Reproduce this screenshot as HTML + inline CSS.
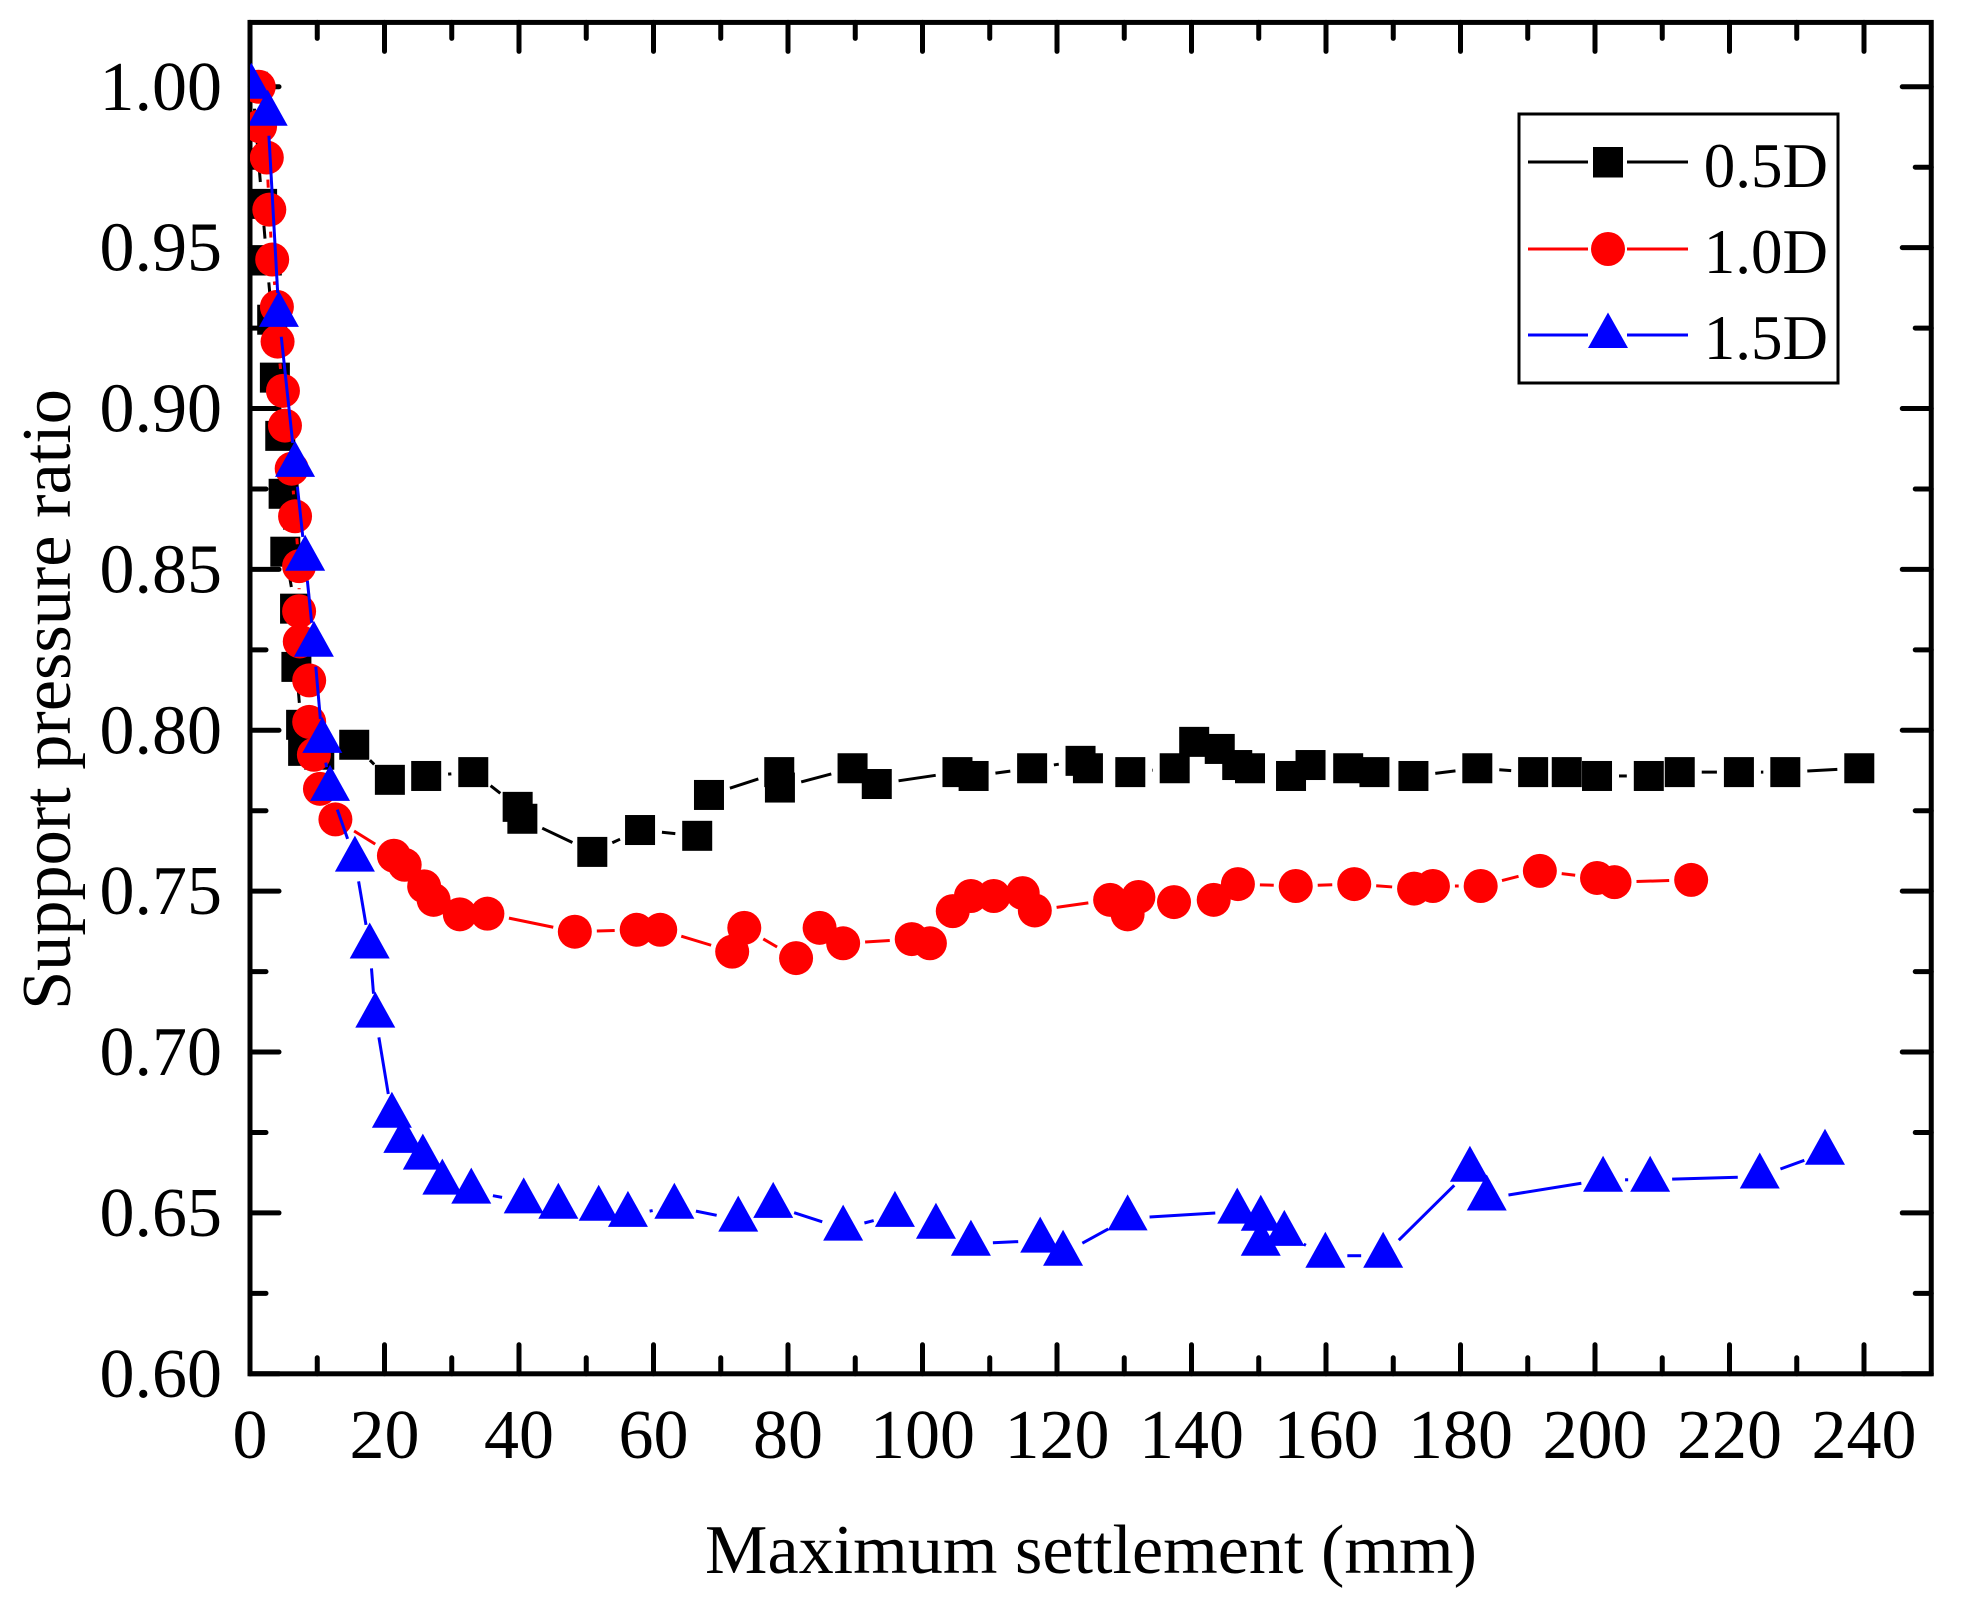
<!DOCTYPE html>
<html>
<head>
<meta charset="utf-8">
<title>Support pressure ratio vs maximum settlement</title>
<style>
html,body{margin:0;padding:0;background:#fff;}
svg{display:block;}
text{font-family:"Liberation Serif","Times New Roman",serif;fill:#000;}
</style>
</head>
<body>
<svg id="chart" xmlns="http://www.w3.org/2000/svg" width="1964" height="1597" viewBox="0 0 1964 1597">
  <defs>
    <clipPath id="plot-clip"><rect x="250" y="22" width="1681" height="1352"/></clipPath>
  </defs>
  <rect x="0" y="0" width="1964" height="1597" fill="#fff"/>
  <g id="axes"></g>
  <g id="series" clip-path="url(#plot-clip)"></g>
  <text x="1091" y="1573" font-size="70.2" text-anchor="middle">Maximum settlement (mm)</text>
  <text transform="translate(70,699.5) rotate(-90)" font-size="70.3" text-anchor="middle">Support pressure ratio</text>
  <g>
    <rect x="1519" y="114" width="319" height="269" fill="#fff" stroke="#000" stroke-width="3"/>
    <g>
      <line x1="1528" y1="162" x2="1588" y2="162" stroke="#000" stroke-width="3"/>
      <line x1="1627" y1="162" x2="1688" y2="162" stroke="#000" stroke-width="3"/>
      <rect x="1593" y="147" width="30" height="30.5" fill="#000"/>
      <text x="1828" y="187" font-size="63" text-anchor="end">0.5D</text>
    </g>
    <g>
      <line x1="1528" y1="249" x2="1588" y2="249" stroke="#f00" stroke-width="3"/>
      <line x1="1627" y1="249" x2="1688" y2="249" stroke="#f00" stroke-width="3"/>
      <circle cx="1608" cy="249" r="17" fill="#f00"/>
      <text x="1828" y="273" font-size="63" text-anchor="end">1.0D</text>
    </g>
    <g>
      <line x1="1528" y1="335" x2="1588" y2="335" stroke="#00f" stroke-width="3"/>
      <line x1="1627" y1="335" x2="1688" y2="335" stroke="#00f" stroke-width="3"/>
      <polygon points="1608,312.5 1628,348 1588,348" fill="#00f"/>
      <text x="1828" y="359" font-size="63" text-anchor="end">1.5D</text>
    </g>
  </g>
</svg>
<script>
var xTickLabels = [0,20,40,60,80,100,120,140,160,180,200,220,240];
var xMinorTicks = [10,30,50,70,90,110,130,150,170,190,210,230];
var yTickLabels = ["0.60","0.65","0.70","0.75","0.80","0.85","0.90","0.95","1.00"];
var yMinorTicks = [0.625,0.675,0.725,0.775,0.825,0.875,0.925,0.975];

var x05 = [0.4,1.8,2.5,3.3,3.7,4.5,5,5.25,6.7,6.9,7.6,7.9,10.3,15.5,20.8,26.2,33.2,39.8,40.5,50.9,58,66.5,68.25,78.7,78.8,89.6,93.2,105.2,107.6,116.3,123.5,124.6,130.9,137.5,140.4,144.2,146.8,148.7,154.8,157.7,163.3,167.2,173,182.5,190.8,195.8,200.3,208,212.6,221.4,228.3,239.3];
var y05 = [1.0,0.9636,0.946,0.9276,0.9096,0.8915,0.8735,0.8555,0.8378,0.8197,0.8017,0.7936,0.7924,0.7955,0.7846,0.7858,0.787,0.7762,0.7725,0.7622,0.769,0.7672,0.7799,0.787,0.7822,0.7882,0.7833,0.787,0.7858,0.7882,0.7905,0.7882,0.787,0.7882,0.7964,0.7942,0.7892,0.7882,0.7858,0.7892,0.7882,0.787,0.7858,0.7882,0.787,0.787,0.7858,0.7858,0.787,0.787,0.787,0.7882];

var x10 = [1.3,1.5,2.5,2.87,3.3,4.0,4.1,4.9,5.2,6.2,6.7,7.3,7.3,7.4,8.8,8.8,9.5,10.4,12.7,21.4,23,25.9,27.3,31.2,35.3,48.3,57.5,61,71.7,73.5,81.2,84.7,88.2,98.4,101.1,104.5,107.2,110.6,114.9,116.7,127.9,130.5,132.1,137.4,143.3,146.9,155.5,164.2,173.1,175.9,183,191.8,200.3,202.9,214.3];
var y10 = [1.0,0.9877,0.978,0.9618,0.9463,0.9316,0.9208,0.9055,0.8947,0.8813,0.8665,0.851,0.837,0.8276,0.8155,0.8026,0.7924,0.7818,0.7723,0.761,0.7582,0.7515,0.7473,0.7428,0.743,0.7374,0.738,0.738,0.7312,0.7386,0.7292,0.7386,0.7338,0.7351,0.7338,0.7438,0.7485,0.7485,0.7494,0.744,0.7473,0.7428,0.7482,0.7466,0.7473,0.7522,0.7516,0.7522,0.7508,0.7516,0.7516,0.7563,0.7541,0.7528,0.7535];

var x15 = [0.2,2.63,4.3,6.7,8.2,9.5,10.75,11.9,15.6,17.8,18.63,21.1,22.8,25.7,28.6,32.9,40.7,45.85,51.85,56.2,63.1,72.6,77.8,88.2,95.9,102,107.2,117.5,120.9,130.5,146.8,150.3,150.3,153.8,159.9,168.5,181.4,183.9,201.2,208.2,224.5,234.2];
var y15 = [1.0,0.9916,0.9291,0.8825,0.8533,0.8266,0.7967,0.7818,0.7598,0.7328,0.7113,0.6802,0.6724,0.6672,0.6594,0.6566,0.6536,0.6519,0.6513,0.6494,0.6519,0.6479,0.6522,0.6451,0.6494,0.6457,0.6404,0.6414,0.6373,0.6483,0.6504,0.6482,0.6404,0.6435,0.6367,0.6367,0.6634,0.6545,0.6603,0.6603,0.6613,0.6687];

var SVGNS = "http://www.w3.org/2000/svg";
function sx(v){ return 250 + v * 6.725; }
function sy(v){ return 1373.8 - (v - 0.6) * 3217.6; }
function make(tag, parent, attrs){
  var el = document.createElementNS(SVGNS, tag);
  for (var k in attrs) el.setAttribute(k, attrs[k]);
  parent.appendChild(el);
  return el;
}

var axes = document.getElementById("axes");
var LEFT = sx(0), RIGHT = sx(250), TOP = sy(1.02), BOTTOM = sy(0.6);
var MAJOR = 29, MINOR = 16;

var frame = make("rect", axes, {x:LEFT, y:TOP, width:RIGHT-LEFT, height:BOTTOM-TOP, fill:"none", stroke:"#000", "stroke-width":5});



function xTick(v, len){
  var px = sx(v);
  var b = make("line", axes, {x1:px, y1:BOTTOM, x2:px, y2:BOTTOM-len, stroke:"#000", "stroke-width":5, "stroke-linecap":"round"});
  
  
  var t = make("line", axes, {x1:px, y1:TOP, x2:px, y2:TOP+len, stroke:"#000", "stroke-width":5, "stroke-linecap":"round"});
  
  
}
function yTick(v, len){
  var py = sy(v);
  var l = make("line", axes, {x1:LEFT, y1:py, x2:LEFT+len, y2:py, stroke:"#000", "stroke-width":5, "stroke-linecap":"round"});
  
  
  var r = make("line", axes, {x1:RIGHT, y1:py, x2:RIGHT-len, y2:py, stroke:"#000", "stroke-width":5, "stroke-linecap":"round"});
  
  
}
xTickLabels.forEach(function(v){
  xTick(v, MAJOR);
  var t = make("text", axes, {x:sx(v), y:1458, "font-size":70, "text-anchor":"middle"});
  
  
  t.textContent = String(v);
});
xMinorTicks.forEach(function(v){ xTick(v, MINOR); });
yTickLabels.forEach(function(s){
  var v = parseFloat(s);
  yTick(v, MAJOR);
  var t = make("text", axes, {x:222, y:sy(v)+23, "font-size":70, "text-anchor":"end"});
  
  
  t.textContent = s;
});
yMinorTicks.forEach(function(v){ yTick(v, MINOR); });

var seriesLayer = document.getElementById("series");
var GAP = 22;

function drawLines(g, xs, ys, color){
  for (var i = 0; i < xs.length - 1; i++){
    var x1 = sx(xs[i]), y1 = sy(ys[i]), x2 = sx(xs[i+1]), y2 = sy(ys[i+1]);
    var dx = x2 - x1, dy = y2 - y1, d = Math.sqrt(dx*dx + dy*dy);
    if (d <= 2 * GAP) continue;
    var ux = dx / d, uy = dy / d;
    var seg = make("line", g, {x1:x1+ux*GAP, y1:y1+uy*GAP, x2:x2-ux*GAP, y2:y2-uy*GAP, stroke:color, "stroke-width":3});
    
    
  }
}
function drawSquares(g, xs, ys){
  xs.forEach(function(v, i){
    var m = make("rect", g, {x:sx(v)-15, y:sy(ys[i])-15, width:30, height:30, fill:"#000"});
    
    
  });
}
function drawCircles(g, xs, ys){
  xs.forEach(function(v, i){
    var m = make("circle", g, {cx:sx(v), cy:sy(ys[i]), r:17, fill:"#f00"});
    
    
  });
}
function drawTriangles(g, xs, ys){
  xs.forEach(function(v, i){
    var px = sx(v), py = sy(ys[i]);
    var m = make("polygon", g, {points:px+","+(py-24)+" "+(px+20)+","+(py+12)+" "+(px-20)+","+(py+12), fill:"#00f"});
    
    
  });
}

var g05 = make("g", seriesLayer, {});


drawLines(g05, x05, y05, "#000");
drawSquares(g05, x05, y05);

var g10 = make("g", seriesLayer, {});


drawLines(g10, x10, y10, "#f00");
drawCircles(g10, x10, y10);

var g15 = make("g", seriesLayer, {});


drawLines(g15, x15, y15, "#00f");
drawTriangles(g15, x15, y15);
</script>
</body>
</html>
